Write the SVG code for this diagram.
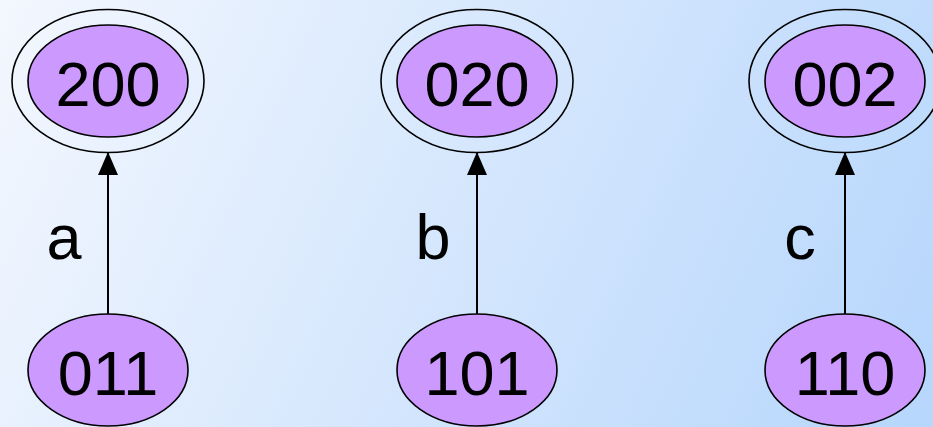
<svg xmlns="http://www.w3.org/2000/svg" width="933" height="427" viewBox="0 0 933 427">
<defs>
<linearGradient id="bg" x1="0" y1="0" x2="933" y2="427" gradientUnits="userSpaceOnUse">
<stop offset="0" stop-color="#f3f7fe"/>
<stop offset="1" stop-color="#b6d6fc"/>
</linearGradient>
<marker id="arr" markerWidth="23" markerHeight="20" refX="23" refY="10" orient="auto" markerUnits="userSpaceOnUse">
<path d="M0,0 L23,10 L0,20 Z" fill="#000"/>
</marker>
<style>
.st{fill:#cc99ff;stroke:#000;stroke-width:1.6}
.ring{fill:none;stroke:#000;stroke-width:1.6}
.lbl{font-family:"Liberation Sans",Arial,sans-serif;font-size:63px;fill:#000;text-anchor:middle}
.edge{stroke:#000;stroke-width:2;fill:none}
</style>
</defs>
<rect width="933" height="427" fill="url(#bg)"/>
<g id="connectors">
<line class="edge" x1="108" y1="314" x2="108" y2="152" marker-end="url(#arr)"/>
<text class="lbl" x="64" y="259">a</text>
<line class="edge" x1="477" y1="314" x2="477" y2="152" marker-end="url(#arr)"/>
<text class="lbl" x="433" y="259">b</text>
<line class="edge" x1="845" y1="314" x2="845" y2="152" marker-end="url(#arr)"/>
<text class="lbl" x="800" y="259">c</text>
</g>
<g id="n200">
<ellipse class="ring" cx="108" cy="81" rx="96" ry="71.5"/>
<ellipse class="st" cx="108" cy="81" rx="80" ry="56"/>
<text class="lbl" x="108" y="106">200</text>
</g>
<g id="n020">
<ellipse class="ring" cx="477" cy="81" rx="96" ry="71.5"/>
<ellipse class="st" cx="477" cy="81" rx="80" ry="56"/>
<text class="lbl" x="477" y="106">020</text>
</g>
<g id="n002">
<ellipse class="ring" cx="845" cy="81" rx="96" ry="71.5"/>
<ellipse class="st" cx="845" cy="81" rx="80" ry="56"/>
<text class="lbl" x="845" y="106">002</text>
</g>
<g id="n011">
<ellipse class="st" cx="108" cy="370" rx="80" ry="56"/>
<text class="lbl" x="108" y="395">011</text>
</g>
<g id="n101">
<ellipse class="st" cx="477" cy="370" rx="80" ry="56"/>
<text class="lbl" x="477" y="395">101</text>
</g>
<g id="n110">
<ellipse class="st" cx="845" cy="370" rx="80" ry="56"/>
<text class="lbl" x="845" y="395">110</text>
</g>
</svg>
